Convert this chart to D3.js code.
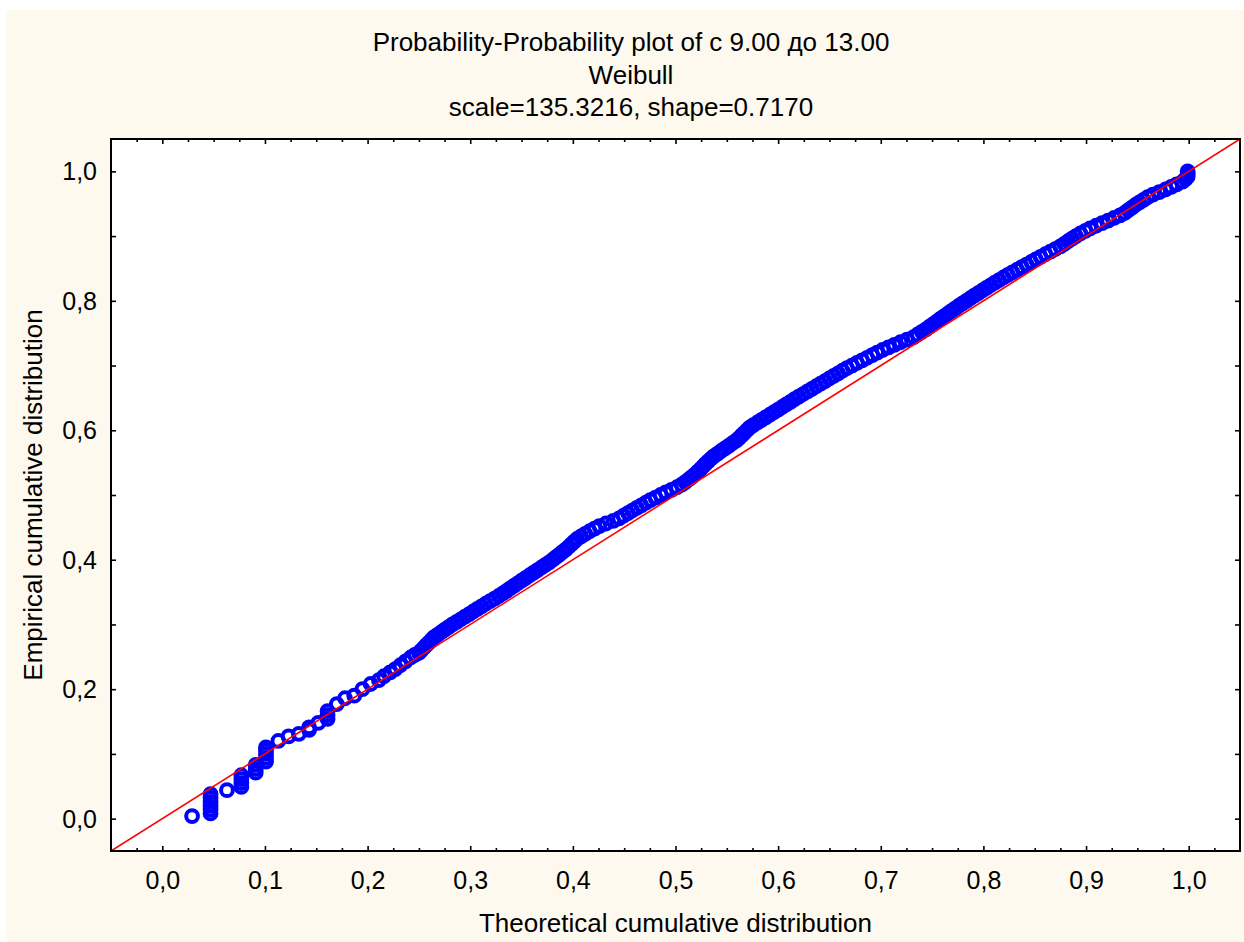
<!DOCTYPE html>
<html>
<head>
<meta charset="utf-8">
<script src="https://cdn.jsdelivr.net/npm/d3@7"></script>
<style>
  html, body { margin: 0; padding: 0; background: #ffffff; }
  svg { display: block; }
  text { font-family: "Liberation Sans", Arial, sans-serif; fill: #000; }
</style>
</head>
<body>
<div id="chart"></div>
<script>
// Title lines
const titleLines = [
  'Probability-Probability plot of с 9.00 до 13.00',
  'Weibull',
  'scale=135.3216, shape=0.7170'
];
const xTitle = 'Theoretical cumulative distribution';
const yTitle = 'Empirical cumulative distribution';

// Tick values
const xTickValues = [0, 0.1, 0.2, 0.3, 0.4, 0.5, 0.6, 0.7, 0.8, 0.9, 1.0];
const xMinorValues = [-0.025, 0.025, 0.05, 0.075, 0.125, 0.15, 0.175, 0.225, 0.25, 0.275,
  0.325, 0.35, 0.375, 0.425, 0.45, 0.475, 0.525, 0.55, 0.575, 0.625, 0.65, 0.675,
  0.725, 0.75, 0.775, 0.825, 0.85, 0.875, 0.925, 0.95, 0.975, 1.025];
const yTickValues = [0, 0.1, 0.2, 0.3, 0.4, 0.5, 0.6, 0.7, 0.8, 0.9, 1.0];
const yLabelValues = [0, 0.2, 0.4, 0.6, 0.8, 1.0];

// Theoretical cumulative distribution (x of each point)
const theoretical = [
  0.029, 0.047, 0.047, 0.047, 0.047, 0.047, 0.047, 0.063, 0.077, 0.077,
  0.077, 0.077, 0.091, 0.091, 0.091, 0.101, 0.101, 0.101, 0.101, 0.101,
  0.113, 0.123, 0.133, 0.143, 0.143, 0.152, 0.161, 0.161, 0.161, 0.170,
  0.178, 0.187, 0.195, 0.203, 0.211, 0.216, 0.222, 0.227, 0.232, 0.237,
  0.242, 0.246,
  0.2500, 0.2524, 0.2548, 0.2572, 0.2597, 0.2621, 0.2645, 0.2681, 0.2717, 0.2753,
  0.2789, 0.2827, 0.2868, 0.2909, 0.2950, 0.2990, 0.3030, 0.3070, 0.3110, 0.3151,
  0.3194, 0.3237, 0.3279, 0.3318, 0.3355, 0.3392, 0.3429, 0.3466, 0.3504, 0.3542,
  0.3580, 0.3618, 0.3656, 0.3694, 0.3732, 0.3770, 0.3804, 0.3836, 0.3868, 0.3900,
  0.3932, 0.3960, 0.3987, 0.4013, 0.4040, 0.4080, 0.4120, 0.4164, 0.4211, 0.4258,
  0.4323, 0.4394, 0.4451, 0.4494, 0.4537, 0.4579, 0.4623, 0.4667, 0.4711, 0.4755,
  0.4805, 0.4855, 0.4905, 0.4961, 0.5015, 0.5060, 0.5095, 0.5128, 0.5160, 0.5190,
  0.5218, 0.5244, 0.5268, 0.5292, 0.5318, 0.5345, 0.5375, 0.5410, 0.5445, 0.5482,
  0.5518, 0.5554, 0.5591, 0.5619, 0.5645, 0.5670, 0.5696, 0.5722, 0.5758, 0.5799,
  0.5839, 0.5880, 0.5920, 0.5960, 0.6000, 0.6040, 0.6080, 0.6120, 0.6160, 0.6201,
  0.6244, 0.6287, 0.6329, 0.6372, 0.6414, 0.6457, 0.6499, 0.6542, 0.6585, 0.6627,
  0.6670, 0.6719, 0.6768, 0.6818, 0.6867, 0.6917, 0.6965, 0.7018, 0.7075, 0.7132,
  0.7192, 0.7256, 0.7320, 0.7360, 0.7400, 0.7440, 0.7476, 0.7511, 0.7545, 0.7580,
  0.7616, 0.7652, 0.7687, 0.7723, 0.7759, 0.7797, 0.7835, 0.7873, 0.7911, 0.7950,
  0.7990, 0.8030, 0.8070, 0.8111, 0.8153, 0.8196, 0.8239, 0.8283, 0.8329, 0.8374,
  0.8420, 0.8466, 0.8511, 0.8557, 0.8604, 0.8653, 0.8701, 0.8750, 0.8788, 0.8825,
  0.8863, 0.8901, 0.8945, 0.8993, 0.9040, 0.9098, 0.9156, 0.9215, 0.9273, 0.9331,
  0.9377, 0.9412, 0.9447, 0.9481, 0.9520, 0.9560, 0.9600, 0.9651, 0.9713, 0.9775,
  0.9830, 0.9883, 0.9940, 0.9970, 0.9990, 0.9990, 0.9990
];

// Empirical cumulative distribution (y of each point)
const empirical = [
  0.004, 0.008, 0.014, 0.020, 0.026, 0.032, 0.038, 0.044, 0.049, 0.055,
  0.061, 0.067, 0.071, 0.077, 0.083, 0.088, 0.094, 0.100, 0.106, 0.110,
  0.120, 0.127, 0.131, 0.137, 0.141, 0.148, 0.154, 0.160, 0.166, 0.177,
  0.186, 0.190, 0.200, 0.208, 0.214, 0.220, 0.226, 0.231, 0.237, 0.243,
  0.249, 0.253,
  0.256, 0.260, 0.264, 0.268, 0.272, 0.276, 0.280, 0.284, 0.288, 0.292,
  0.296, 0.300, 0.304, 0.308, 0.312, 0.316, 0.320, 0.324, 0.328, 0.332,
  0.336, 0.340, 0.344, 0.348, 0.352, 0.356, 0.360, 0.364, 0.368, 0.372,
  0.376, 0.380, 0.384, 0.388, 0.392, 0.396, 0.400, 0.404, 0.408, 0.412,
  0.416, 0.420, 0.424, 0.428, 0.432, 0.436, 0.440, 0.444, 0.448, 0.452,
  0.456, 0.460, 0.464, 0.468, 0.472, 0.476, 0.480, 0.484, 0.488, 0.492,
  0.496, 0.500, 0.504, 0.508, 0.512, 0.516, 0.520, 0.524, 0.528, 0.532,
  0.536, 0.540, 0.544, 0.548, 0.552, 0.556, 0.560, 0.564, 0.568, 0.572,
  0.576, 0.580, 0.584, 0.588, 0.592, 0.596, 0.600, 0.604, 0.608, 0.612,
  0.616, 0.620, 0.624, 0.628, 0.632, 0.636, 0.640, 0.644, 0.648, 0.652,
  0.656, 0.660, 0.664, 0.668, 0.672, 0.676, 0.680, 0.684, 0.688, 0.692,
  0.696, 0.700, 0.704, 0.708, 0.712, 0.716, 0.720, 0.724, 0.728, 0.732,
  0.736, 0.740, 0.744, 0.748, 0.752, 0.756, 0.760, 0.764, 0.768, 0.772,
  0.776, 0.780, 0.784, 0.788, 0.792, 0.796, 0.800, 0.804, 0.808, 0.812,
  0.816, 0.820, 0.824, 0.828, 0.832, 0.836, 0.840, 0.844, 0.848, 0.852,
  0.856, 0.860, 0.864, 0.868, 0.872, 0.876, 0.880, 0.884, 0.888, 0.892,
  0.896, 0.900, 0.904, 0.908, 0.912, 0.916, 0.920, 0.924, 0.928, 0.932,
  0.936, 0.940, 0.944, 0.948, 0.952, 0.956, 0.960, 0.964, 0.968, 0.972,
  0.976, 0.980, 0.984, 0.988, 0.992, 0.996, 1.000
];

// Reference line y = x, across the whole domain
const refLine = [-0.05, 1.05];

const width = 1244;
const height = 942;
const plot = {left: 111, right: 1240, top: 139, bottom: 851};

const fmt = d3.formatLocale({decimal: ',', thousands: ' ', grouping: [3], currency: ['', '']}).format('.1f');

const x = d3.scaleLinear().domain([-0.05, 1.05]).range([plot.left, plot.right]);
const y = d3.scaleLinear().domain([-0.05, 1.05]).range([plot.bottom, plot.top]);

const svg = d3.select('#chart')
  .append('svg')
  .attr('width', width)
  .attr('height', height);

// Backgrounds
svg.append('rect')
  .attr('x', 6).attr('y', 10)
  .attr('width', width - 6).attr('height', height - 10)
  .attr('fill', '#fdf9ee');
svg.append('rect')
  .attr('x', plot.left).attr('y', plot.top)
  .attr('width', plot.right - plot.left).attr('height', plot.bottom - plot.top)
  .attr('fill', '#ffffff');

svg.append('clipPath').attr('id', 'plot-clip')
  .append('rect')
  .attr('x', plot.left).attr('y', plot.top)
  .attr('width', plot.right - plot.left).attr('height', plot.bottom - plot.top);

const inner = svg.append('g').attr('clip-path', 'url(#plot-clip)');

// Points
inner.append('g')
  .selectAll('circle')
  .data(theoretical.map((t, i) => [t, empirical[i]]))
  .enter()
  .append('circle')
  .attr('cx', d => x(d[0]))
  .attr('cy', d => y(d[1]))
  .attr('r', 5.9)
  .attr('fill', 'none')
  .attr('stroke', '#0000ff')
  .attr('stroke-width', 4);

// Reference line
inner.append('line')
  .attr('x1', x(refLine[0])).attr('y1', y(refLine[0]))
  .attr('x2', x(refLine[1])).attr('y2', y(refLine[1]))
  .attr('stroke', '#ff0000')
  .attr('stroke-width', 1.6);

// Axes: ticks point inward
const axisStyle = g => {
  g.select('.domain').remove();
  g.selectAll('line').attr('stroke', '#000').attr('stroke-width', 1.6);
};

svg.append('g')
  .attr('transform', `translate(0,${plot.bottom})`)
  .call(d3.axisBottom(x).tickValues(xTickValues).tickSizeInner(-5).tickSizeOuter(0).tickFormat(fmt))
  .call(axisStyle)
  .call(g => g.selectAll('text')
    .attr('y', 38)
    .attr('dy', null)
    .style('font-size', '25px')
    .style('font-family', '"Liberation Sans", Arial, sans-serif'));

svg.append('g')
  .attr('transform', `translate(0,${plot.bottom})`)
  .call(d3.axisBottom(x).tickValues(xMinorValues).tickSizeInner(-3).tickSizeOuter(0).tickFormat(''))
  .call(axisStyle);

svg.append('g')
  .attr('transform', `translate(0,${plot.top})`)
  .call(d3.axisTop(x).tickValues(xTickValues).tickSizeInner(-5).tickSizeOuter(0).tickFormat(''))
  .call(axisStyle);

svg.append('g')
  .attr('transform', `translate(0,${plot.top})`)
  .call(d3.axisTop(x).tickValues(xMinorValues).tickSizeInner(-3).tickSizeOuter(0).tickFormat(''))
  .call(axisStyle);

svg.append('g')
  .attr('transform', `translate(${plot.left},0)`)
  .call(d3.axisLeft(y).tickValues(yTickValues).tickSizeInner(-5).tickSizeOuter(0).tickFormat(''))
  .call(axisStyle);

svg.append('g')
  .attr('transform', `translate(${plot.right},0)`)
  .call(d3.axisRight(y).tickValues(yTickValues).tickSizeInner(-5).tickSizeOuter(0).tickFormat(''))
  .call(axisStyle);

// Y labels only every 0.2
svg.append('g')
  .selectAll('text')
  .data(yLabelValues)
  .enter()
  .append('text')
  .text(d => fmt(d))
  .attr('x', plot.left - 14)
  .attr('y', d => y(d) + 9)
  .style('text-anchor', 'end')
  .style('font-size', '25px');

// Frame
svg.append('rect')
  .attr('x', plot.left).attr('y', plot.top)
  .attr('width', plot.right - plot.left).attr('height', plot.bottom - plot.top)
  .attr('fill', 'none')
  .attr('stroke', '#000')
  .attr('stroke-width', 2);

// Titles
svg.append('g')
  .selectAll('text')
  .data(titleLines)
  .enter()
  .append('text')
  .text(d => d)
  .attr('x', 631)
  .attr('y', (d, i) => 51 + i * 32.5)
  .style('text-anchor', 'middle')
  .style('font-size', '26px');

svg.append('text')
  .text(xTitle)
  .attr('x', (plot.left + plot.right) / 2)
  .attr('y', 932)
  .style('text-anchor', 'middle')
  .style('font-size', '26px');

svg.append('text')
  .text(yTitle)
  .attr('transform', `translate(42,${(plot.top + plot.bottom) / 2}) rotate(-90)`)
  .style('text-anchor', 'middle')
  .style('font-size', '26px');
</script>
</body>
</html>
